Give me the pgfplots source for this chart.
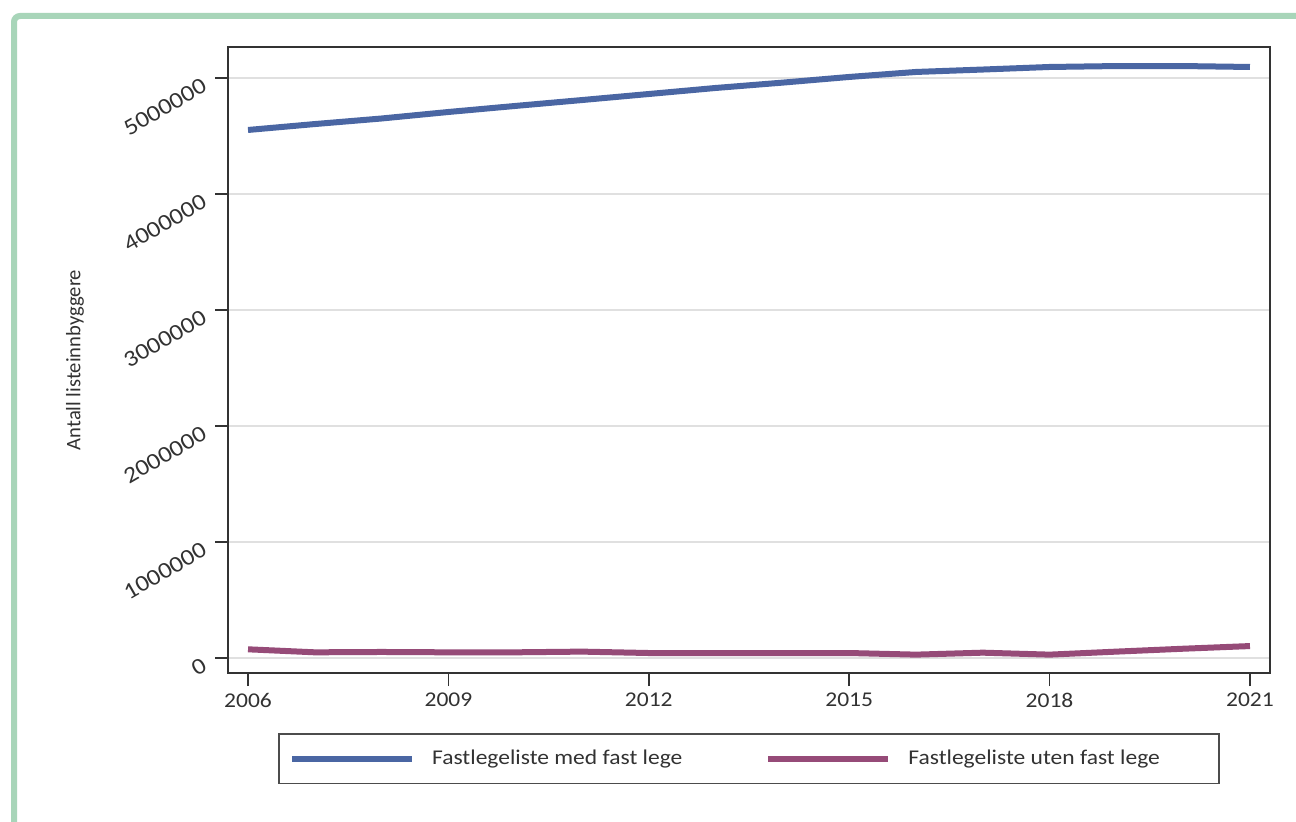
\documentclass[border=0pt]{standalone}
\usepackage{pgfplots}
\pgfplotsset{compat=1.18}
\usepackage{fontspec}
\setmainfont{Carlito}[FakeStretch=1.12]
\newfontfamily\plainfont{Carlito}

\definecolor{framegreen}{RGB}{168,213,185}
\definecolor{stblue}{RGB}{74,102,163}
\definecolor{stred}{RGB}{150,75,120}
\definecolor{txt}{RGB}{50,50,50}

\begin{document}
\begin{tikzpicture}
  \useasboundingbox (0,0) rectangle (648pt,410.5pt);
  \fill[white] (0,0) rectangle (648pt,410.5pt);
  % frame around the figure
  \draw[line width=3pt, framegreen, rounded corners=3pt]
    (7pt,-10pt) -- (7pt,402.5pt) -- (660pt,402.5pt);

  \begin{axis}[
    at={(114pt,74pt)}, anchor=south west,
    scale only axis, width=521pt, height=313pt,
    xmin=2005.70, xmax=2021.30,
    ymin=-129310, ymax=5267241,
    xtick={2006,2009,...,2021},
    ytick={0,1000000,...,5000000},
    xtick pos=bottom, ytick pos=left,
    tick align=outside, major tick length=6.5pt,
    every tick/.style={black!80, line width=0.8pt},
    axis line style={black!80, line width=0.8pt},
    ymajorgrids, grid style={black!12, line width=0.7pt},
    scaled y ticks=false,
    /pgf/number format/assume math mode=true,
    yticklabel={\pgfmathprintnumber[fixed, precision=0, 1000 sep={}]{\tick}},
    xticklabel={\pgfmathprintnumber[1000 sep={}]{\tick}},
    ticklabel style={font=\fontsize{10.5}{12}\selectfont, text=txt},
    yticklabel style={rotate=30, anchor=east, xshift=-2.5pt,
      font=\fontsize{11.5}{13}\selectfont},
    ylabel={Antall listeinnbyggere},
    ylabel style={at={([xshift=-76.5pt]rel axis cs:0,0.5)}, anchor=center,
      font=\plainfont\fontsize{10.3}{12}\selectfont, text=txt},
    legend columns=2,
    legend style={at={(0.5,0)}, anchor=north, yshift=-30pt,
      draw=black!70, line width=0.8pt, inner xsep=5pt, inner ysep=6pt,
      font=\fontsize{10.5}{12}\selectfont, text=txt,
      /tikz/every even column/.append style={column sep=39.5pt}},
    legend image code/.code={\draw[#1] (0pt,0pt) -- (60pt,0pt);},
  ]
  \addplot[color=stblue, line width=3pt, line join=round] coordinates {
    (2006, 4552000)
    (2007, 4603000)
    (2008, 4651000)
    (2009, 4707000)
    (2010, 4759000)
    (2011, 4810000)
    (2012, 4862000)
    (2013, 4914000)
    (2014, 4960000)
    (2015, 5009000)
    (2016, 5052000)
    (2017, 5073000)
    (2018, 5095000)
    (2019, 5103000)
    (2020, 5103000)
    (2021, 5095000)
  };
  \addlegendentry{\makebox[6.5pt]{}Fastlegeliste med fast lege}

  \addplot[color=stred, line width=3pt, line join=round] coordinates {
    (2006, 75000)
    (2007, 49000)
    (2008, 52000)
    (2009, 49000)
    (2010, 49000)
    (2011, 55000)
    (2012, 43000)
    (2013, 43000)
    (2014, 43000)
    (2015, 43000)
    (2016, 29000)
    (2017, 46000)
    (2018, 29000)
    (2019, 55000)
    (2020, 80000)
    (2021, 103000)
  };
  \addlegendentry{\makebox[6.5pt]{}Fastlegeliste uten fast lege\makebox[22.5pt]{}}
  \end{axis}
\end{tikzpicture}
\end{document}
